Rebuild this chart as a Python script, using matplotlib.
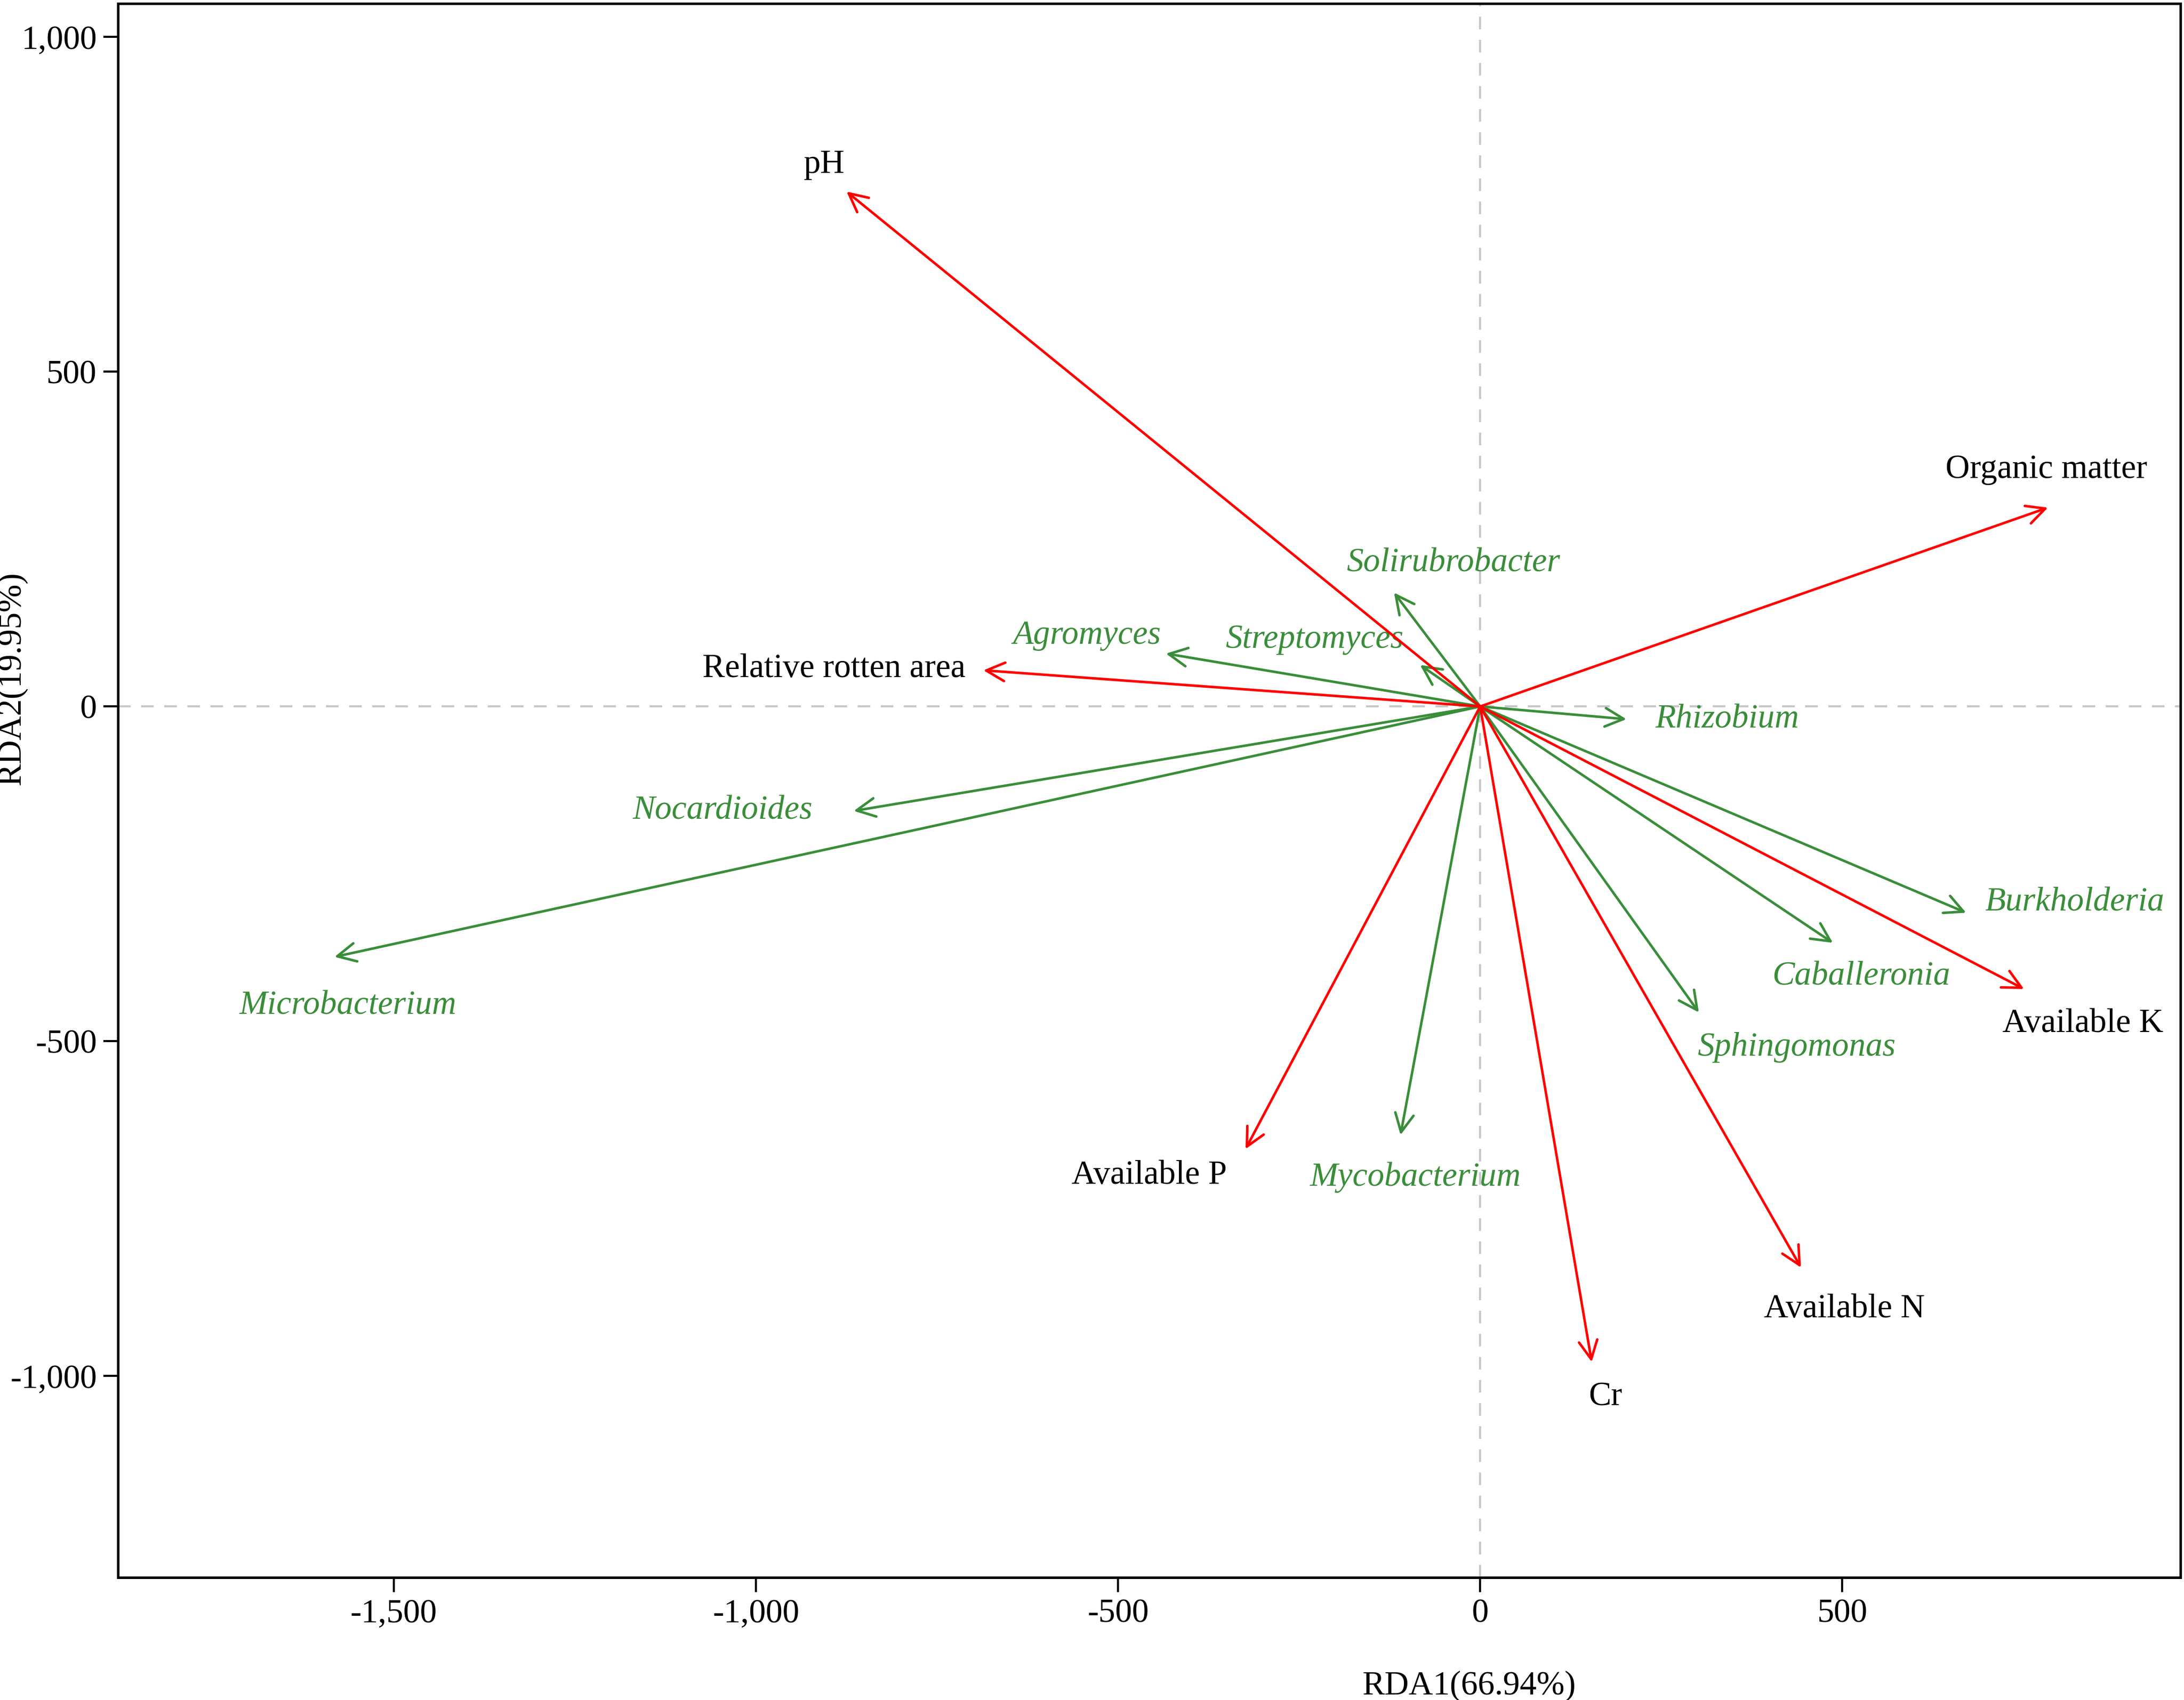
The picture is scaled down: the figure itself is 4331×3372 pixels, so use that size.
import matplotlib
matplotlib.use("Agg")
from matplotlib import pyplot as plt
from matplotlib.ticker import FuncFormatter

plt.rcParams['font.family'] = ['Liberation Serif', 'DejaVu Serif']

# environmental factors (red arrows)
env_names = ['pH', 'Organic matter', 'Relative rotten area', 'Available K',
             'Available N', 'Cr', 'Available P']
env_x = [-875, 784, -686, 751, 443, 154, -324]
env_y = [769, 297, 54, -422, -838, -979, -661]
env_lx = [-906, 782, -892, 832, 503, 173, -457]
env_ly = [809, 354, 56, -474, -900, -1031, -700]

# genera (green arrows)
gen_names = ['Solirubrobacter', 'Streptomyces', 'Agromyces', 'Rhizobium',
             'Nocardioides', 'Microbacterium', 'Burkholderia', 'Caballeronia',
             'Sphingomonas', 'Mycobacterium']
gen_x = [-119, -83, -434, 202, -865, -1582, 671, 487, 302, -110]
gen_y = [170, 62, 79, -19, -156, -374, -308, -353, -457, -640]
gen_lx = [-37, -229, -543, 341, -1046, -1563, 821, 526, 437, -89]
gen_ly = [214, 100, 106, -19, -156, -447, -293, -403, -509, -703]

red = '#ff0000'
green = '#3a8d3a'

fig = plt.figure(figsize=(4331 / 300, 3372 / 300), dpi=300)
ax = fig.add_axes([0.054, 0.072, 0.9444, 0.926])

ax.axhline(0, color='#c8c8c8', lw=1.0, ls=(0, (6, 5)), zorder=0)
ax.axvline(0, color='#c8c8c8', lw=1.0, ls=(0, (6, 5)), zorder=0)

for x, y in zip(gen_x, gen_y):
    ax.annotate('', xy=(x, y), xytext=(0, 0),
                arrowprops=dict(arrowstyle='->', color=green, lw=1.2,
                                mutation_scale=22, shrinkA=0, shrinkB=0))
for name, lx, ly in zip(gen_names, gen_lx, gen_ly):
    ax.text(lx, ly, name, color=green, fontsize=16, style='italic',
            ha='center', va='center')

for x, y in zip(env_x, env_y):
    ax.annotate('', xy=(x, y), xytext=(0, 0),
                arrowprops=dict(arrowstyle='->', color=red, lw=1.2,
                                mutation_scale=22, shrinkA=0, shrinkB=0))
for name, lx, ly in zip(env_names, env_lx, env_ly):
    ax.text(lx, ly, name, color='black', fontsize=16, ha='center', va='center')

ax.set_xlim(-1881, 967)
ax.set_ylim(-1301, 1050)
ax.set_xticks([-1500, -1000, -500, 0, 500])
ax.set_yticks([-1000, -500, 0, 500, 1000])
fmt = FuncFormatter(lambda v, p: '{:,}'.format(int(v)))
ax.xaxis.set_major_formatter(fmt)
ax.yaxis.set_major_formatter(fmt)
ax.tick_params(labelsize=16, length=7, width=1.0, pad=3)
for s in ax.spines.values():
    s.set_linewidth(1.2)

ax.set_xlabel('RDA1(66.94%)', fontsize=16)
ax.set_ylabel('RDA2(19.95%)', fontsize=16)
ax.xaxis.set_label_coords(0.655, -0.059)
ax.yaxis.set_label_coords(-0.044, 0.571)

fig.savefig('out.png', dpi=300)
